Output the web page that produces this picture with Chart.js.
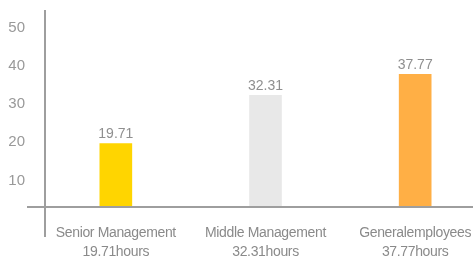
<!DOCTYPE html>
<html>
<head>
<meta charset="utf-8">
<script src="https://cdn.jsdelivr.net/npm/chart.js@4"></script>
<style>
  html, body { margin: 0; padding: 0; background: #fff; }
  #wrap { width: 473px; height: 260px; }
</style>
</head>
<body>
<div id="wrap"><canvas id="chart" width="473" height="260"></canvas></div>
<script>
const categories = [
  ['Senior Management', '19.71hours'],
  ['Middle Management', '32.31hours'],
  ['Generalemployees', '37.77hours'],
];
const hours = [19.71, 32.31, 37.77];
const barColors = ['#FFD500', '#E8E8E8', '#FFAF45'];
const yTicks = [10, 20, 30, 40, 50];

// the category band runs a little past the right edge of the canvas in the original,
// and the category labels are set a bit tighter
const widenX = {
  id: 'widenX',
  afterLayout(chart) {
    const x = chart.scales.x;
    x.left -= 4;
    x.right += 17;
    x.width = x.right - x.left;
    x.configure();
    if (!x._tight) {
      const draw = x.drawLabels;
      x.drawLabels = function (area) {
        this.ctx.save();
        this.ctx.letterSpacing = '-0.35px';
        draw.call(this, area);
        this.ctx.restore();
      };
      x._tight = true;
    }
  },
};

// axis lines cross each other and run past the chart area, like the original
const axisLines = {
  id: 'axisLines',
  afterDatasetsDraw(chart) {
    const { ctx, chartArea } = chart;
    const y = chart.scales.y;
    const base = y.getPixelForValue(y.min);
    ctx.save();
    ctx.strokeStyle = '#9e9e9e';
    ctx.lineWidth = 2;
    ctx.beginPath();
    ctx.moveTo(chartArea.left, chartArea.top);
    ctx.lineTo(chartArea.left, base + 30);
    ctx.moveTo(chartArea.left - 18, base);
    ctx.lineTo(chartArea.right, base);
    ctx.stroke();
    ctx.restore();
  },
};

const valueLabels = {
  id: 'valueLabels',
  afterDatasetsDraw(chart) {
    const { ctx } = chart;
    const meta = chart.getDatasetMeta(0);
    ctx.save();
    ctx.font = '14px "Liberation Sans", Arial, sans-serif';
    ctx.fillStyle = '#8f8f8f';
    ctx.textAlign = 'center';
    ctx.textBaseline = 'bottom';
    meta.data.forEach((bar, i) => {
      ctx.fillText(hours[i].toFixed(2), bar.x, bar.y - 2);
    });
    ctx.restore();
  },
};

new Chart(document.getElementById('chart'), {
  type: 'bar',
  data: {
    labels: categories,
    datasets: [
      {
        data: hours,
        backgroundColor: barColors,
        borderWidth: 0,
        barThickness: 32,
      },
    ],
  },
  options: {
    responsive: false,
    animation: false,
    layout: {
      padding: { top: 10, right: 0, left: 0, bottom: 0 },
    },
    plugins: {
      legend: { display: false },
      tooltip: { enabled: false },
    },
    scales: {
      x: {
        grid: { display: false, drawTicks: false },
        border: { display: false },
        ticks: {
          color: '#8a8a8a',
          font: { family: '"Liberation Sans", Arial, sans-serif', size: 14, lineHeight: 1.35 },
          padding: 17,
          maxRotation: 0,
          autoSkip: false,
        },
        afterFit(scale) {
          scale.height = 53;
          scale.paddingLeft = 0;
          scale.paddingRight = 0;
        },
      },
      y: {
        min: 3.1,
        max: 54.6,
        grid: { display: false, drawTicks: false },
        border: { display: false },
        ticks: {
          color: '#999999',
          font: { family: '"Liberation Sans", Arial, sans-serif', size: 15 },
          padding: 20,
        },
        afterBuildTicks(scale) {
          scale.ticks = yTicks.map((v) => ({ value: v }));
        },
        afterFit(scale) {
          scale.width = 45;
          scale.paddingTop = 0;
          scale.paddingBottom = 0;
        },
      },
    },
  },
  plugins: [widenX, axisLines, valueLabels],
});
</script>
</body>
</html>
